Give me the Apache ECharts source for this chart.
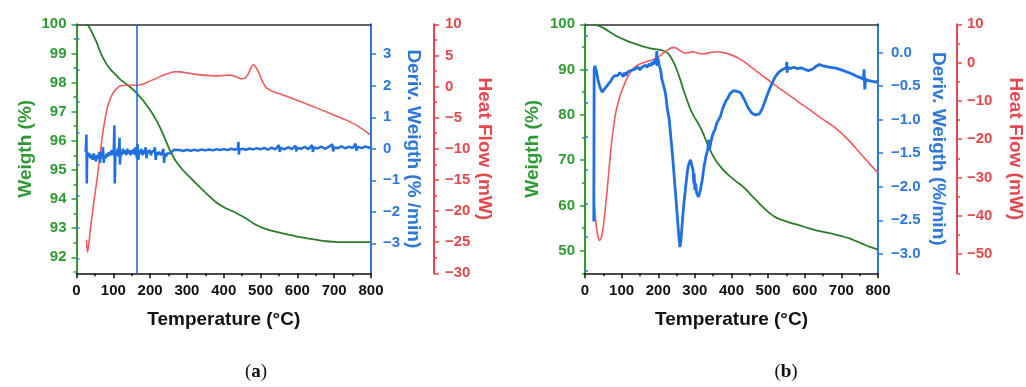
<!DOCTYPE html>
<html>
<head>
<meta charset="utf-8">
<script src="https://cdn.jsdelivr.net/npm/echarts@6/dist/echarts.min.js"></script>
<style>html,body{margin:0;padding:0;background:#fff}#c{width:1026px;height:387px}</style>
</head>
<body>
<div id="c"></div>
<script>
// ---------- data (temperature °C, value) ----------
const weightA = [[25,100],[32,99.95],[43,99.7],[54,99.4],[63,99.1],[72,98.85],[81,98.65],[91,98.47],[104,98.3],[118,98.12],[132,97.98],[145,97.85],[157,97.72],[168,97.57],[180,97.4],[190,97.23],[204,96.98],[217,96.7],[227,96.45],[236,96.2],[245,95.93],[254,95.67],[263,95.45],[272,95.26],[290,94.98],[308,94.75],[326,94.52],[344,94.3],[362,94.08],[380,93.88],[403,93.7],[426,93.57],[444,93.45],[462,93.32],[480,93.17],[498,93.05],[520,92.95],[543,92.87],[566,92.8],[589,92.74],[612,92.68],[634,92.63],[657,92.59],[679,92.55],[700,92.53],[720,92.52],[760,92.52],[800,92.52]];
const heatA = [[27,-24.6],[30,-26.6],[33,-25.5],[38,-22.8],[45,-19.5],[52,-16.5],[59,-13.5],[66,-10.0],[72,-7.2],[79,-4.8],[86,-2.9],[93,-1.8],[100,-1.0],[110,-0.3],[118,0.1],[136,0.2],[150,0.2],[168,0.25],[185,0.5],[199,0.87],[218,1.35],[236,1.8],[252,2.15],[267,2.37],[283,2.35],[299,2.2],[320,2.0],[344,1.84],[362,1.75],[380,1.72],[400,1.78],[417,1.84],[432,1.6],[448,1.25],[458,1.4],[466,1.95],[473,2.9],[480,3.5],[486,3.2],[494,2.4],[503,1.1],[510,0.3],[516,-0.2],[530,-0.7],[543,-1.0],[590,-2.0],[634,-3.0],[680,-4.1],[725,-5.2],[760,-6.2],[797,-7.7]];
const derivA = [[25,-0.1],[27,0.45],[28,-1.1],[29,-0.1],[31,-0.05],[33,-0.25],[36,-0.15],[38,-0.3],[41,-0.2],[44,-0.35],[47,-0.15],[50,-0.3],[53,-0.4],[56,-0.2],[59,-0.3],[62,-0.1],[64,-0.45],[66,-0.1],[69,-0.3],[72,0.05],[74,-0.45],[76,-0.2],[79,-0.3],[82,-0.15],[85,-0.25],[88,-0.1],[92,-0.2],[95,-0.05],[98,-0.2],[101,-0.1],[103,0.75],[104,-1.1],[106,-0.1],[109,-0.2],[112,0.0],[114,-0.25],[117,0.35],[118,-0.5],[120,-0.1],[123,-0.2],[126,0.0],[129,-0.15],[132,-0.05],[135,-0.2],[138,0.0],[141,-0.15],[144,-0.05],[147,-0.2],[150,-0.05],[153,-0.15],[156,0.0],[159,-0.2],[161,0.05],[164,-0.3],[166,0.15],[168,-0.35],[170,-0.05],[173,-0.15],[176,0.0],[179,-0.2],[182,-0.05],[185,-0.15],[188,0.05],[190,-0.3],[193,-0.1],[196,-0.15],[199,-0.05],[202,-0.2],[205,-0.1],[208,-0.15],[211,-0.05],[213,0.05],[215,-0.35],[218,-0.1],[221,-0.2],[224,-0.1],[227,-0.15],[230,-0.2],[233,-0.1],[236,0.0],[238,-0.45],[240,-0.15],[243,-0.25],[246,-0.15],[250,-0.1],[255,-0.14],[260,-0.08],[265,-0.03],[270,-0.08],[280,-0.04],[290,-0.07],[300,-0.03],[310,-0.06],[320,-0.03],[330,-0.06],[340,-0.02],[350,-0.05],[360,-0.02],[370,-0.05],[380,-0.01],[390,-0.04],[400,-0.01],[410,-0.04],[420,0.0],[430,-0.03],[438,0.0],[440,0.22],[441,-0.18],[443,-0.02],[450,0.0],[460,-0.03],[470,0.01],[480,-0.02],[490,0.02],[500,-0.02],[510,0.03],[520,-0.03],[530,0.04],[540,-0.02],[550,0.12],[552,-0.1],[555,0.03],[565,-0.02],[575,0.05],[585,-0.01],[595,0.1],[597,-0.08],[600,0.03],[610,0.0],[620,0.06],[630,-0.01],[640,0.12],[642,-0.1],[645,0.04],[655,0.01],[665,0.07],[675,0.0],[685,0.06],[695,0.14],[697,-0.08],[700,0.04],[710,0.02],[720,0.08],[730,0.01],[740,0.07],[750,0.02],[758,0.16],[760,-0.06],[765,0.06],[775,0.02],[785,0.08],[795,0.03],[800,0.06]];
const spikeA = [164];

const weightB = [[24,100],[40,99.6],[52,99.1],[70,98.2],[88,97.3],[110,96.5],[133,95.8],[155,95.2],[178,94.7],[200,94.4],[215,94.16],[225,93.7],[233,92.9],[242,91.6],[251,89.9],[260,87.8],[269,85.5],[278,83.4],[287,81.4],[298,79.6],[310,78.0],[322,76.0],[333,73.8],[346,71.5],[360,69.6],[378,67.8],[396,66.4],[414,65.2],[432,64.1],[450,62.6],[468,61.1],[486,59.6],[504,58.3],[522,57.3],[541,56.7],[563,56.1],[586,55.6],[609,55.0],[631,54.5],[654,54.1],[677,53.7],[700,53.2],[722,52.7],[740,52.1],[758,51.5],[776,50.9],[794,50.4],[800,50.2]];
const heatB = [[24,-33.6],[27,-38.5],[31,-42.8],[36,-45.6],[40,-46.4],[45,-45.5],[50,-42.8],[55,-38.5],[61,-32.7],[66,-27.5],[70,-23.1],[77,-17.5],[83,-13.5],[90,-10.6],[97,-8.3],[106,-6.0],[115,-4.0],[124,-2.5],[133,-1.4],[147,-0.5],[160,0.0],[174,0.4],[188,0.85],[200,1.5],[215,2.57],[228,3.4],[238,3.9],[245,3.9],[251,3.7],[260,3.1],[269,2.6],[280,2.5],[290,2.8],[300,2.75],[312,2.4],[324,2.3],[340,2.6],[360,2.83],[378,2.6],[396,2.15],[414,1.4],[432,0.4],[450,-0.9],[468,-2.2],[486,-3.5],[504,-4.8],[522,-6.1],[541,-7.4],[563,-8.9],[586,-10.5],[609,-12.0],[631,-13.5],[654,-15.1],[677,-16.6],[700,-18.4],[722,-20.5],[740,-22.4],[758,-24.4],[776,-26.3],[794,-28.2],[800,-28.7]];
const derivB = [[24,-2.52],[24.5,-1.5],[25,-0.25],[27,-0.2],[30,-0.26],[33,-0.33],[36,-0.42],[40,-0.5],[44,-0.56],[47,-0.59],[51,-0.57],[55,-0.53],[60,-0.5],[65,-0.46],[70,-0.43],[75,-0.38],[80,-0.35],[85,-0.33],[90,-0.34],[95,-0.3],[100,-0.33],[105,-0.36],[108,-0.3],[112,-0.34],[116,-0.29],[120,-0.3],[125,-0.27],[130,-0.29],[135,-0.25],[140,-0.27],[145,-0.22],[150,-0.26],[155,-0.22],[160,-0.24],[165,-0.19],[170,-0.22],[175,-0.17],[180,-0.2],[184,-0.14],[188,-0.18],[191,-0.1],[194,-0.16],[196,0.02],[197,-0.2],[199,-0.08],[202,-0.18],[206,-0.25],[210,-0.4],[215,-0.5],[220,-0.62],[225,-0.85],[230,-1.0],[235,-1.3],[240,-1.6],[245,-1.95],[250,-2.3],[255,-2.65],[259,-2.9],[262,-2.8],[266,-2.5],[270,-2.25],[275,-2.0],[280,-1.75],[284,-1.65],[288,-1.6],[292,-1.62],[295,-1.75],[297,-1.95],[298,-1.8],[300,-2.05],[302,-1.95],[305,-2.1],[310,-2.15],[315,-2.05],[320,-1.9],[325,-1.7],[330,-1.55],[335,-1.45],[338,-1.3],[340,-1.45],[345,-1.3],[350,-1.2],[355,-1.15],[360,-1.05],[365,-1.0],[370,-0.95],[375,-0.85],[380,-0.78],[385,-0.72],[390,-0.68],[395,-0.62],[400,-0.6],[405,-0.57],[410,-0.56],[415,-0.58],[420,-0.57],[425,-0.6],[430,-0.65],[435,-0.7],[440,-0.76],[445,-0.82],[450,-0.86],[455,-0.9],[460,-0.92],[465,-0.93],[470,-0.94],[475,-0.92],[480,-0.88],[485,-0.82],[490,-0.75],[495,-0.67],[500,-0.6],[505,-0.53],[510,-0.47],[515,-0.41],[520,-0.36],[525,-0.32],[530,-0.29],[535,-0.27],[540,-0.25],[545,-0.24],[550,-0.23],[551,-0.14],[552,-0.3],[553,-0.22],[560,-0.24],[570,-0.22],[580,-0.24],[590,-0.23],[600,-0.25],[610,-0.27],[620,-0.25],[630,-0.21],[640,-0.18],[650,-0.2],[660,-0.21],[670,-0.22],[680,-0.23],[690,-0.24],[700,-0.26],[710,-0.28],[720,-0.3],[730,-0.32],[740,-0.35],[750,-0.37],[760,-0.4],[762,-0.25],[764,-0.55],[766,-0.4],[775,-0.42],[785,-0.43],[795,-0.44],[800,-0.42]];

// ---------- tick values ----------
const xTicks = [0,100,200,300,400,500,600,700,800];
const greenTicksA = [92,93,94,95,96,97,98,99,100];
const greenMinorA = [91.5,92.5,93.5,94.5,95.5,96.5,97.5,98.5,99.5];
const blueTicksA = [-3,-2,-1,0,1,2,3];
const blueMinorA = [-3.5,-2.5,-1.5,-0.5,0.5,1.5,2.5,3.5];
const redTicksA = [-30,-25,-20,-15,-10,-5,0,5,10];
const redMinorA = [-27.5,-22.5,-17.5,-12.5,-7.5,-2.5,2.5,7.5];
const greenTicksB = [50,60,70,80,90,100];
const greenMinorB = [45,55,65,75,85,95];
const blueTicksB = [-3.0,-2.5,-2.0,-1.5,-1.0,-0.5,0.0];
const blueMinorB = [-3.25,-2.75,-2.25,-1.75,-1.25,-0.75,-0.25,0.25];
const redTicksB = [-50,-40,-30,-20,-10,0,10];
const redMinorB = [-55,-45,-35,-25,-15,-5,5];

// ---------- styles ----------
const FONT = '"Liberation Sans", Arial, Helvetica, sans-serif';
const GREEN_AX = '#2f9a35', GREEN_LN = '#2a7d2a';
const BLUE_AX = '#2e78d8', BLUE_LN = '#2170e0';
const RED_AX = '#e4484e', RED_LN = '#ee5b5f';

function fmt(dec){ return v => (v < 0 ? '\u2212' : '') + Math.abs(v).toFixed(dec); }

function yMain(o){
  return {
    type:'value', gridIndex:o.grid, position:o.pos, offset:o.offset||0, min:o.min, max:o.max,
    axisLine:{show:true, onZero:false, lineStyle:{color:o.color, width:2}},
    axisTick:{show:true, length:5, customValues:o.ticks, lineStyle:{color:o.color, width:1.5}},
    axisLabel:{show:true, customValues:o.ticks, color:o.color, fontSize:15, fontWeight:'bold', fontFamily:FONT, margin:o.margin, formatter:fmt(o.dec||0)},
    splitLine:{show:false},
    name:o.name, nameLocation:'middle', nameGap:o.gap, nameRotate:o.rot,
    nameTextStyle:{color:o.color, fontSize:19, fontWeight:'bold', fontFamily:FONT}
  };
}
function yMinor(o, minors){
  return {
    type:'value', gridIndex:o.grid, position:o.pos, offset:o.offset||0, min:o.min, max:o.max,
    axisLine:{show:false}, axisLabel:{show:false}, splitLine:{show:false},
    axisTick:{show:true, length:3, customValues:minors, lineStyle:{color:o.color, width:1.5}}
  };
}
function xBottom(g){
  return {
    type:'value', gridIndex:g, position:'bottom', min:0, max:800, interval:100,
    axisLine:{show:true, onZero:false, lineStyle:{color:'#111', width:1.5}},
    axisTick:{show:true, length:5, lineStyle:{color:'#111', width:1.5}},
    minorTick:{show:true, splitNumber:2, length:3, lineStyle:{color:'#111', width:1.5}},
    axisLabel:{color:'#111', fontSize:15, fontWeight:'bold', fontFamily:FONT, margin:10},
    splitLine:{show:false}, minorSplitLine:{show:false},
    name:'Temperature (°C)', nameLocation:'middle', nameGap:37,
    nameTextStyle:{color:'#111', fontSize:19, fontWeight:'bold', fontFamily:FONT}
  };
}
function xTop(g){
  return {
    type:'value', gridIndex:g, position:'top', min:0, max:800,
    axisLine:{show:true, onZero:false, lineStyle:{color:'#333', width:1.5}},
    axisTick:{show:false}, axisLabel:{show:false}, splitLine:{show:false}
  };
}

const axA = [
  {grid:0,pos:'left',min:91.45,max:100,color:GREEN_AX,ticks:greenTicksA,margin:10,name:'Weigth (%)',gap:41,rot:90},
  {grid:0,pos:'right',min:-3.95,max:3.95,color:BLUE_AX,ticks:blueTicksA,margin:12,name:'Deriv. Weigth (% /min)',gap:32,rot:-90},
  {grid:0,pos:'right',offset:63,min:-30,max:10,color:RED_AX,ticks:redTicksA,margin:11,name:'Heat Flow (mW)',gap:41,rot:-90}
];
const axB = [
  {grid:1,pos:'left',min:45,max:100,color:GREEN_AX,ticks:greenTicksB,margin:10,name:'Weigth (%)',gap:43,rot:90},
  {grid:1,pos:'right',min:-3.29,max:0.42,color:BLUE_AX,ticks:blueTicksB,margin:13,dec:1,name:'Deriv. Weigth (%/min)',gap:51,rot:-90},
  {grid:1,pos:'right',offset:79,min:-55,max:10,color:RED_AX,ticks:redTicksB,margin:10,name:'Heat Flow (mW)',gap:49,rot:-90}
];
const minA = [greenMinorA, blueMinorA, redMinorA];
const minB = [greenMinorB, blueMinorB, redMinorB];

const yAxes = [];
axA.forEach(o => yAxes.push(yMain(o)));
axA.forEach((o,i) => yAxes.push(yMinor(o, minA[i])));
axB.forEach(o => yAxes.push(yMain(o)));
axB.forEach((o,i) => yAxes.push(yMinor(o, minB[i])));

function line(x, y, data, color, width, smooth, z){
  return {type:'line', xAxisIndex:x, yAxisIndex:y, data:data, showSymbol:false, symbol:'none',
    smooth:smooth, lineStyle:{color:color, width:width}, z:z, silent:true};
}

const series = [
  line(0, 0, weightA, GREEN_LN, 1.8, 0.3, 2),
  line(0, 2, heatA, RED_LN, 1.6, 0.3, 3),
  Object.assign(line(0, 1, derivA, BLUE_LN, 2.5, false, 4), {
    markLine:{silent:true, symbol:'none', label:{show:false}, animation:false,
      lineStyle:{color:BLUE_LN, width:1.6, type:'solid'}, data: spikeA.map(v => ({xAxis:v}))}
  }),
  line(2, 6, weightB, GREEN_LN, 1.8, 0.3, 2),
  line(2, 8, heatB, RED_LN, 1.6, 0.3, 3),
  line(2, 7, derivB, BLUE_LN, 2.8, false, 4)
];

const chart = echarts.init(document.getElementById('c'), null, {renderer:'canvas'});
chart.setOption({
  animation:false,
  backgroundColor:'#fff',
  grid:[
    {left:76.5, right:655, top:24.3, bottom:113.7},
    {left:585, right:146.7, top:24.3, bottom:113.7}
  ],
  xAxis:[xBottom(0), xTop(0), xBottom(1), xTop(1)],
  yAxis:yAxes,
  series:series,
  graphic:[
    {type:'text', x:256, y:372, style:{text:'({b|a})', rich:{b:{fontWeight:'bold', fontSize:19, fontFamily:'"Liberation Serif", serif'}}, font:'19px "Liberation Serif", serif', fill:'#111', align:'center', verticalAlign:'middle'}},
    {type:'text', x:786, y:372, style:{text:'({b|b})', rich:{b:{fontWeight:'bold', fontSize:19, fontFamily:'"Liberation Serif", serif'}}, font:'19px "Liberation Serif", serif', fill:'#111', align:'center', verticalAlign:'middle'}}
  ]
});
</script>
</body>
</html>
